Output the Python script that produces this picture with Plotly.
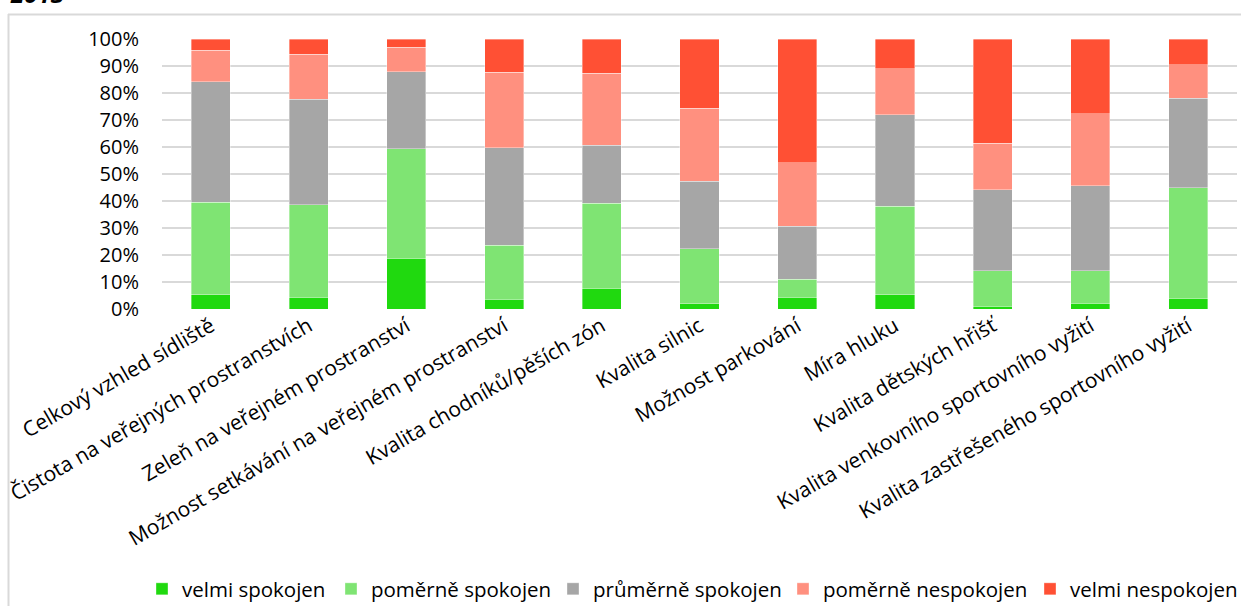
import plotly.graph_objects as go

# Satisfaction survey, share of answers per topic (percent)
categories = [
    "Celkový vzhled sídliště",
    "Čistota na veřejných prostranstvích",
    "Zeleň na veřejném prostranství",
    "Možnost setkávání na veřejném prostranství",
    "Kvalita chodníků/pěších zón",
    "Kvalita silnic",
    "Možnost parkování",
    "Míra hluku",
    "Kvalita dětských hřišť",
    "Kvalita venkovního sportovního vyžití",
    "Kvalita zastřešeného sportovního vyžití",
]

velmi_spokojen = [5.3, 4.3, 18.8, 3.6, 7.6, 2.0, 4.3, 5.3, 1.0, 2.1, 3.9]
pomerne_spokojen = [34.3, 34.4, 40.6, 20.0, 31.5, 20.4, 6.8, 32.7, 13.2, 12.1, 41.1]
prumerne_spokojen = [44.5, 38.9, 28.5, 36.2, 21.5, 25.0, 19.6, 34.0, 30.0, 31.5, 33.0]
pomerne_nespokojen = [11.8, 16.8, 9.1, 27.9, 26.7, 26.9, 23.4, 16.9, 17.2, 26.6, 12.5]
velmi_nespokojen = [4.1, 5.6, 3.0, 12.3, 12.7, 25.7, 45.9, 11.1, 38.6, 27.7, 9.5]

series_names = ["velmi spokojen", "poměrně spokojen", "průměrně spokojen",
                "poměrně nespokojen", "velmi nespokojen"]
series_values = [velmi_spokojen, pomerne_spokojen, prumerne_spokojen,
                 pomerne_nespokojen, velmi_nespokojen]
series_colors = ["#20D90F", "#7FE473", "#A6A6A6", "#FF907F", "#FF5034"]

title_text = "2013"

W, H = 1241, 606
ML, MR, MT, MB = 162, 4, 39, 297
PW, PH = W - ML - MR, H - MT - MB


def px_x(p):
    """Horizontal pixel position -> paper coordinate."""
    return (p - ML) / PW


def px_y(p):
    """Vertical pixel position (from top) -> paper coordinate."""
    return (H - MB - p) / PH


FONT = "Open Sans"

# left edge (px) of each legend entry's label area, one small legend per series
legend_left_px = [142, 331, 553, 783, 1030]
legend_ids = ["legend", "legend2", "legend3", "legend4", "legend5"]

fig = go.Figure()
for name, vals, col, lid in zip(series_names, series_values, series_colors, legend_ids):
    fig.add_trace(go.Bar(
        x=categories, y=vals, name=name, legend=lid,
        marker=dict(color=col, line=dict(color="rgba(255,255,255,0.45)", width=0.8)),
        hoverinfo="skip",
    ))

legend_layout = {}
for lid, lx in zip(legend_ids, legend_left_px):
    legend_layout[lid] = dict(
        orientation="h",
        x=px_x(lx), xanchor="left",
        y=px_y(589), yanchor="middle",
        font=dict(family=FONT, size=20.5, color="#000000"),
        itemwidth=30,
        bgcolor="rgba(0,0,0,0)",
    )

fig.update_layout(
    width=W, height=H,
    barmode="stack", bargap=0.6,
    margin=dict(l=ML, r=MR, t=MT, b=MB, pad=0, autoexpand=False),
    paper_bgcolor="white", plot_bgcolor="white",
    font=dict(family=FONT, color="#000000", size=21),
    showlegend=True,
    xaxis=dict(
        tickangle=-30, showgrid=False, showline=False, zeroline=False,
        ticks="", tickfont=dict(family=FONT, size=21),
        automargin=False, fixedrange=True,
    ),
    yaxis=dict(
        range=[0, 100], dtick=10, ticksuffix="%",
        showgrid=True, gridcolor="#D9D9D9", gridwidth=2,
        zeroline=False, showline=False, ticks="",
        ticklabelstandoff=22,
        tickfont=dict(family=FONT, size=20),
        automargin=False, fixedrange=True,
    ),
    shapes=[
        # outer chart frame (left and top edges)
        dict(type="line", xref="paper", yref="paper",
             x0=px_x(8.5), x1=px_x(8.5), y0=px_y(14), y1=px_y(620),
             line=dict(color="#D9D9D9", width=2)),
        dict(type="line", xref="paper", yref="paper",
             x0=px_x(8), x1=px_x(1260), y0=px_y(14.5), y1=px_y(14.5),
             line=dict(color="#D9D9D9", width=2)),
    ],
    annotations=[
        dict(text=f"<b><i>{title_text}</i></b>", xref="paper", yref="paper",
             x=px_x(8), xanchor="left", y=px_y(12), yanchor="bottom",
             showarrow=False, font=dict(family=FONT, size=24, color="#000000")),
    ],
    **legend_layout,
)

fig.write_html("out.html")
